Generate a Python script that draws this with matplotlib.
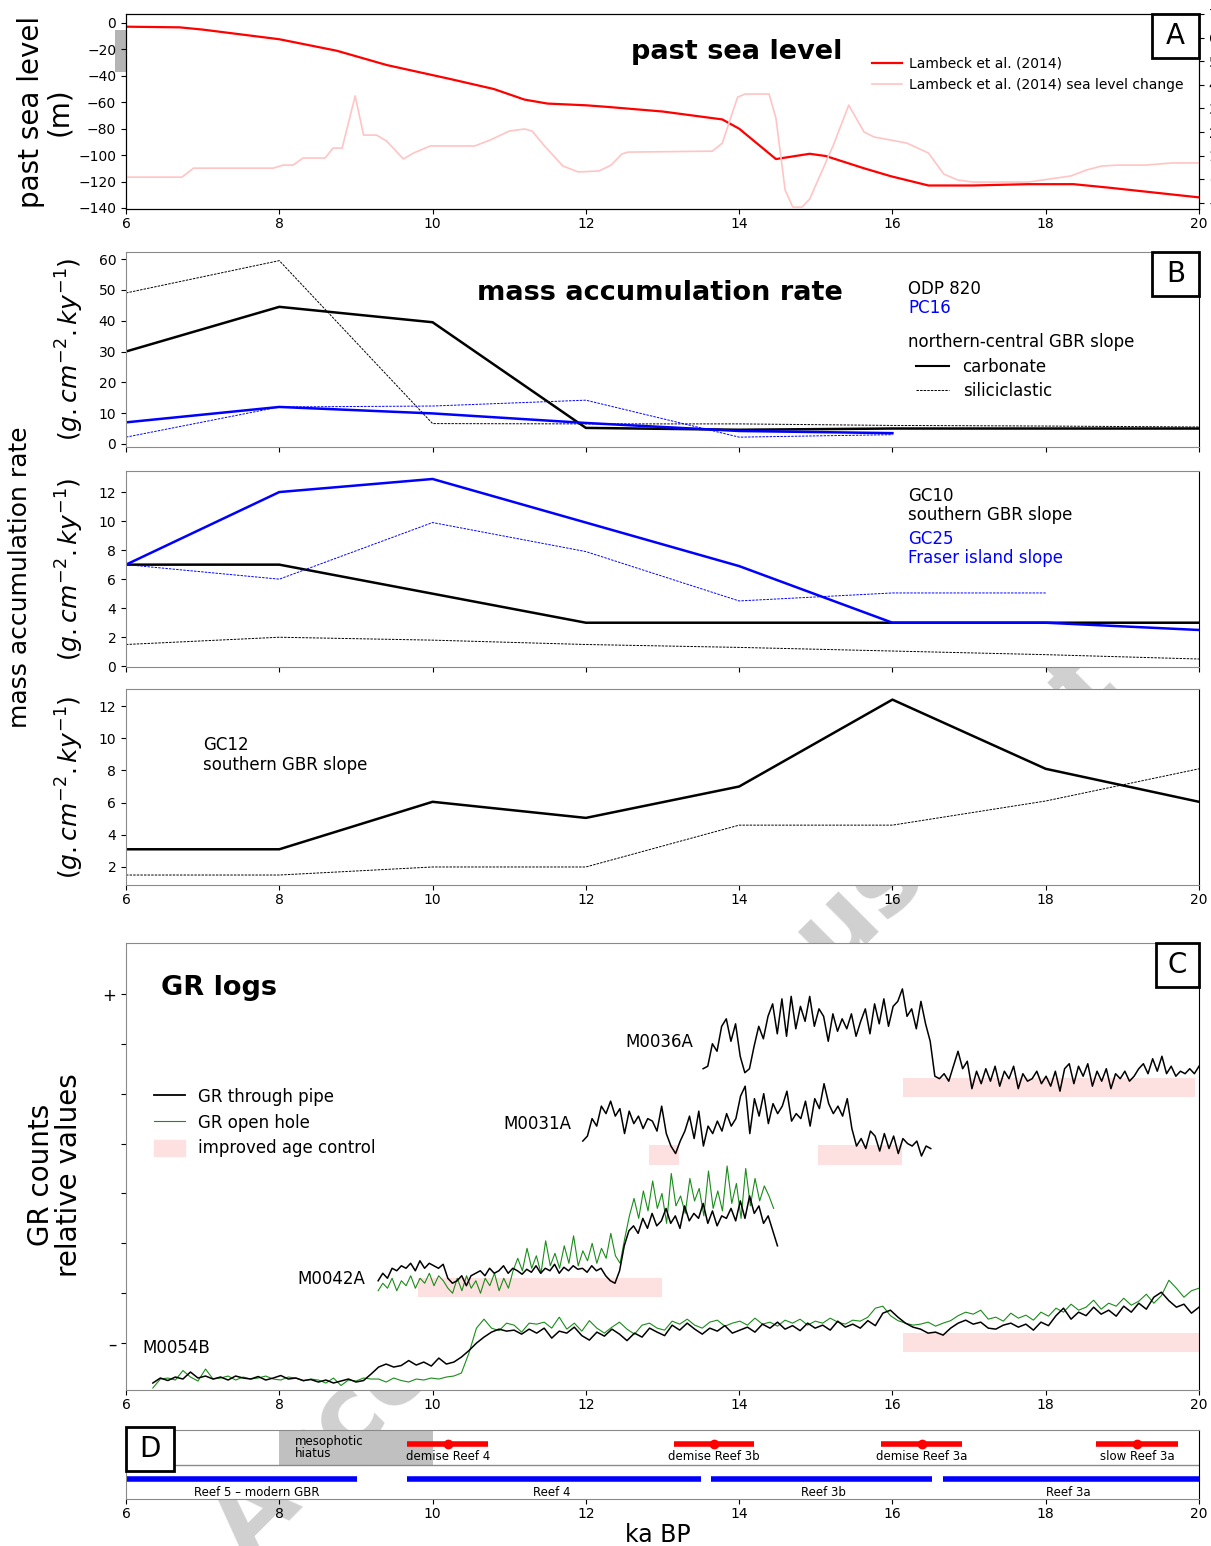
import numpy as np
import matplotlib
matplotlib.use("Agg")
import matplotlib.pyplot as plt
from matplotlib.lines import Line2D
from matplotlib.patches import Patch, Rectangle
import matplotlib.transforms as mtransforms

# ---------------- data ----------------
ka_ticks = np.arange(6, 21, 2)

# A: Lambeck et al. (2014) sea level (m) and sea level change (right axis)
lambeck_age = [6, 6.7, 7, 8, 8.75, 9.4, 10.23, 10.8, 11.2, 11.5, 12, 12.3, 13, 13.78,
               14, 14.48, 14.92, 15.13, 15.63, 15.98, 16.47, 17.05, 17.77, 18.36, 18.8, 20]
lambeck_sl = [-2.8, -3.3, -5, -12.3, -21, -31.8, -42.4, -50, -58, -61, -62.3, -63.6, -67, -73,
              -80, -103, -99, -100.7, -110, -116, -123, -123, -122, -122, -124.5, -132]
change_age = [6.0, 6.73, 6.88, 7.92, 8.05, 8.18, 8.31, 8.6, 8.7, 8.82, 8.99, 9.1, 9.27, 9.4,
              9.62, 9.75, 9.97, 10.23, 10.55, 10.75, 11.0, 11.2, 11.3, 11.45, 11.7, 11.9, 12.17,
              12.33, 12.47, 12.55, 13.65, 13.78, 13.98, 14.08, 14.39, 14.48, 14.6, 14.7, 14.82,
              14.92, 15.23, 15.43, 15.63, 15.76, 15.98, 16.19, 16.47, 16.67, 16.85, 17.05, 17.77,
              18.33, 18.53, 18.73, 18.94, 19.3, 19.65, 20.0]
change_val = [0.09, 0.09, 0.47, 0.47, 0.60, 0.60, 0.90, 0.90, 1.32, 1.32, 3.53, 1.87, 1.87, 1.62,
              0.86, 1.11, 1.41, 1.41, 1.41, 1.66, 2.04, 2.13, 2.04, 1.45, 0.56, 0.31, 0.35,
              0.60, 1.07, 1.15, 1.19, 1.53, 3.48, 3.61, 3.61, 2.59, -0.46, -1.18, -1.18,
              -0.84, 1.45, 3.14, 2.0, 1.79, 1.66, 1.53, 1.11, 0.22, -0.03, -0.12, -0.12,
              0.14, 0.39, 0.56, 0.60, 0.60, 0.69, 0.69]

# B: mass accumulation rates (g.cm-2.ky-1)
odp_age = [6, 8, 10, 12, 14, 16, 18, 20]
odp_carb = [30, 44.5, 39.5, 5.2, 4.6, 5, 5, 5]
odp_sili = [49, 59.5, 6.6, 6.5, 6.5, 6, 5.8, 5.5]
pc16_age = [6, 8, 10, 12, 14, 16]
pc16_carb = [7, 12, 9.9, 6.8, 4.2, 3.5]
pc16_sili = [2.2, 12, 12.3, 14.2, 2.2, 3.0]

gc_age = [6, 8, 10, 12, 14, 16, 18, 20]
gc10_carb = [7, 7, 5, 3, 3, 3, 3, 3]
gc10_sili = [1.5, 2, 1.8, 1.5, 1.3, 1.05, 0.8, 0.5]
gc25_carb = [7, 12, 12.9, 9.9, 6.9, 3, 3, 2.5]
gc25_sili_age = [6, 8, 10, 12, 14, 16, 18]
gc25_sili = [7, 6, 9.9, 7.9, 4.5, 5.05, 5.05]
gc12_carb = [3.1, 3.1, 6.05, 5.05, 7, 12.4, 8.1, 6.05]
gc12_sili = [1.5, 1.5, 2, 2, 4.6, 4.6, 6.1, 8.1]

# C: GR logs (relative counts), evenly sampled between first and last age
m0036a_range = (13.53, 20.0)
m0036a_pipe = [5.50, 5.55, 6.00, 5.85, 6.35, 6.50, 6.05, 6.40, 5.75, 5.42, 5.50, 5.95, 6.35, 6.10,
               6.55, 6.80, 6.20, 6.90, 6.15, 6.95, 6.30, 6.75, 6.45, 6.95, 6.35, 6.70, 6.55, 6.05,
               6.60, 6.25, 6.50, 6.30, 6.60, 6.15, 6.45, 6.70, 6.20, 6.80, 6.40, 6.90, 6.35, 6.75,
               6.85, 7.10, 6.55, 6.70, 6.30, 6.85, 6.40, 6.05, 5.35, 5.30, 5.40, 5.25, 5.55, 5.85,
               5.50, 5.65, 5.10, 5.45, 5.20, 5.50, 5.25, 5.55, 5.15, 5.45, 5.30, 5.55, 5.10, 5.40,
               5.25, 5.30, 5.45, 5.20, 5.35, 5.15, 5.45, 5.05, 5.50, 5.60, 5.20, 5.55, 5.35, 5.60,
               5.15, 5.45, 5.25, 5.50, 5.10, 5.40, 5.30, 5.45, 5.25, 5.35, 5.50, 5.60, 5.40, 5.70,
               5.45, 5.75, 5.40, 5.55, 5.35, 5.45, 5.40, 5.50, 5.40, 5.55]
m0031a_range = (11.96, 16.5)
m0031a_pipe = [4.05, 4.15, 4.50, 4.35, 4.75, 4.60, 4.85, 4.55, 4.70, 4.20, 4.65, 4.40, 4.55, 4.30,
               4.50, 4.45, 4.25, 4.75, 4.20, 3.95, 3.80, 4.05, 4.25, 4.55, 4.10, 4.65, 3.95, 4.35,
               4.20, 4.45, 4.25, 4.60, 4.35, 4.50, 4.95, 5.15, 4.20, 4.90, 4.55, 5.00, 4.40, 4.80,
               4.60, 4.75, 5.05, 4.45, 4.60, 4.50, 4.85, 4.35, 4.90, 4.70, 5.20, 4.80, 4.60, 4.75,
               4.55, 4.90, 4.30, 3.95, 4.10, 3.90, 4.25, 4.15, 3.85, 4.20, 3.90, 4.15, 3.80, 4.10,
               4.00, 3.95, 4.05, 3.75, 3.95, 3.90]
m0042a_pipe_range = (9.29, 14.5)
m0042a_pipe = [1.25, 1.40, 1.30, 1.50, 1.45, 1.55, 1.50, 1.60, 1.45, 1.65, 1.50, 1.60, 1.55, 1.50,
               1.58, 1.30, 1.20, 1.25, 1.35, 1.15, 1.35, 1.40, 1.45, 1.35, 1.50, 1.40, 1.45, 1.55,
               1.40, 1.50, 1.45, 1.38, 1.48, 1.42, 1.55, 1.40, 1.50, 1.45, 1.58, 1.40, 1.52, 1.45,
               1.55, 1.48, 1.50, 1.42, 1.55, 1.45, 1.50, 1.35, 1.25, 1.20, 1.45, 1.95, 2.25, 2.35,
               2.20, 2.50, 2.30, 2.60, 2.35, 2.45, 2.70, 2.40, 2.55, 2.30, 2.75, 2.45, 2.60, 2.50,
               2.80, 2.40, 2.65, 2.35, 2.55, 2.50, 2.70, 2.45, 2.85, 2.50, 2.95, 2.60, 2.75, 2.40,
               2.55, 2.25, 1.95]
m0042a_open_range = (9.29, 14.45)
m0042a_open = [1.05, 1.20, 1.10, 1.30, 1.05, 1.25, 1.15, 1.35, 1.10, 1.30, 1.20, 1.40, 1.15, 1.35,
               1.25, 1.10, 1.00, 1.30, 1.05, 1.35, 1.10, 1.25, 1.00, 1.30, 1.15, 1.40, 1.05, 1.30,
               1.10, 1.45, 1.70, 1.45, 1.90, 1.50, 1.75, 1.40, 2.05, 1.55, 1.80, 1.50, 1.95, 1.60,
               2.15, 1.55, 1.85, 1.65, 2.00, 1.60, 1.90, 1.70, 2.20, 1.75, 1.60, 2.10, 2.55, 2.90,
               2.50, 3.05, 2.65, 3.25, 2.70, 3.00, 2.40, 3.40, 2.75, 2.95, 2.60, 3.30, 2.85, 3.10,
               2.55, 3.45, 2.70, 3.05, 2.65, 3.55, 2.80, 3.20, 2.50, 3.50, 2.75, 3.30, 2.85, 3.15,
               2.95, 2.70]
m0054b_range = (6.35, 20.0)
m0054b_pipe = [-0.80, -0.70, -0.75, -0.68, -0.72, -0.58, -0.70, -0.66, -0.72, -0.68, -0.74, -0.66,
               -0.70, -0.72, -0.67, -0.74, -0.70, -0.65, -0.72, -0.70, -0.75, -0.73, -0.78, -0.74,
               -0.80, -0.76, -0.72, -0.78, -0.75, -0.62, -0.48, -0.42, -0.48, -0.45, -0.35, -0.44,
               -0.38, -0.46, -0.30, -0.42, -0.38, -0.28, -0.15, 0.00, 0.12, 0.22, 0.28, 0.24, 0.26,
               0.18, 0.28, 0.20, 0.30, 0.10, 0.24, 0.20, 0.32, 0.15, 0.06, 0.22, 0.14, 0.28, 0.18,
               0.05, 0.20, 0.12, 0.30, 0.22, 0.15, 0.36, 0.26, 0.40, 0.28, 0.18, 0.30, 0.24, 0.35,
               0.20, 0.26, 0.32, 0.22, 0.38, 0.30, 0.42, 0.28, 0.35, 0.25, 0.40, 0.30, 0.36, 0.26,
               0.44, 0.32, 0.38, 0.30, 0.45, 0.35, 0.60, 0.66, 0.52, 0.40, 0.32, 0.28, 0.20, 0.22,
               0.16, 0.30, 0.40, 0.46, 0.38, 0.42, 0.30, 0.28, 0.36, 0.40, 0.32, 0.38, 0.26, 0.42,
               0.35, 0.55, 0.70, 0.48, 0.62, 0.55, 0.72, 0.58, 0.66, 0.54, 0.74, 0.62, 0.80, 0.68,
               0.92, 1.02, 0.85, 0.72, 0.78, 0.60, 0.72]
m0054b_open = [-0.90, -0.72, -0.70, -0.74, -0.55, -0.68, -0.76, -0.52, -0.72, -0.70, -0.66, -0.74,
               -0.68, -0.72, -0.70, -0.66, -0.72, -0.74, -0.68, -0.70, -0.76, -0.72, -0.74, -0.80,
               -0.70, -0.85, -0.74, -0.76, -0.70, -0.72, -0.72, -0.78, -0.70, -0.75, -0.78, -0.72,
               -0.74, -0.70, -0.72, -0.68, -0.66, -0.60, -0.20, 0.30, 0.48, 0.30, 0.25, 0.40,
               0.36, 0.22, 0.40, 0.38, 0.42, 0.30, 0.52, 0.28, 0.40, 0.24, 0.45, 0.30, 0.20, 0.32,
               0.42, 0.28, 0.18, 0.36, 0.40, 0.30, 0.26, 0.44, 0.38, 0.48, 0.36, 0.30, 0.42, 0.46,
               0.34, 0.40, 0.44, 0.36, 0.50, 0.38, 0.42, 0.34, 0.46, 0.40, 0.48, 0.36, 0.44, 0.40,
               0.50, 0.42, 0.38, 0.46, 0.44, 0.52, 0.70, 0.74, 0.55, 0.45, 0.40, 0.36, 0.38, 0.42,
               0.34, 0.40, 0.45, 0.55, 0.62, 0.58, 0.66, 0.48, 0.52, 0.44, 0.60, 0.50, 0.56, 0.46,
               0.62, 0.54, 0.70, 0.62, 0.78, 0.66, 0.72, 0.86, 0.68, 0.80, 0.74, 0.90, 0.76, 0.84,
               0.98, 0.80, 0.95, 1.26, 1.10, 0.92, 1.05, 1.10]

well_names = ["M0036A", "M0031A", "M0042A", "M0054B"]
well_label_age = [13.40, 11.81, 9.12, 6.22]
well_label_val = [6.04, 4.39, 1.28, -0.10]

agectl_start = [16.14, 12.82, 15.03, 9.81, 16.14]
agectl_end = [19.95, 13.22, 16.12, 13.0, 20.0]
agectl_low = [4.93, 3.57, 3.57, 0.92, -0.18]
agectl_high = [5.31, 3.97, 3.97, 1.30, 0.20]

# D: reef events
demise_labels = ["demise Reef 4", "demise Reef 3b", "demise Reef 3a", "slow Reef 3a"]
demise_mid = [10.2, 13.67, 16.38, 19.19]
demise_lo = [9.67, 13.15, 15.85, 18.66]
demise_hi = [10.72, 14.2, 16.91, 19.73]
reef_labels = ["Reef 5 \u2013 modern GBR", "Reef 4", "Reef 3b", "Reef 3a"]
reef_start = [6.0, 9.67, 13.63, 16.66]
reef_end = [9.02, 13.5, 16.52, 20.0]
reef_label_at = [7.7, 11.55, 15.1, 18.3]
hiatus_start, hiatus_end = 8.0, 10.0

# ---------------- figure ----------------
W, H = 1211, 1546
fig = plt.figure(figsize=(W / 100, H / 100), dpi=100)


def add_axes(left, top, right, bottom):
    return fig.add_axes([left / W, 1 - bottom / H, (right - left) / W, (bottom - top) / H])


def grey_frame(ax, col="#8a8a8a"):
    for s in ["top", "left", "bottom"]:
        ax.spines[s].set_color(col)
    ax.spines["right"].set_color("k")


def tag(left, top, right, bottom, letter):
    fig.patches.append(Rectangle((left / W, 1 - bottom / H), (right - left) / W, (bottom - top) / H,
                                 transform=fig.transFigure, fc="white", ec="black", lw=2, zorder=10))
    fig.text((left + right) / 2 / W, 1 - (top + bottom) / 2 / H, letter, ha="center", va="center",
             fontsize=20, zorder=11)


BLUE = "#0000ff"
fine = (0, (2.5, 1.2))
TITLE_SIZE = 19.5

# ---- A: past sea level ----
axA = add_axes(126, 14, 1199, 209)
axA.plot(lambeck_age, lambeck_sl, color="red", lw=1.6)
axA.set_xlim(6, 20)
axA.set_ylim(-140.8, 6.8)
axA.set_yticks(np.arange(-140, 1, 20))
axA.set_xticks(ka_ticks)
axA.tick_params(labelsize=10)
axA.tick_params(axis="x", pad=2)
axA.add_patch(Rectangle((-0.0103, -37), 0.0103, 31.7, color="#b4b4b4", lw=0,
                        transform=mtransforms.blended_transform_factory(axA.transAxes, axA.transData),
                        clip_on=False))
axA2 = axA.twinx()
axA2.plot(change_age, change_val, color="#ffc4c4", lw=1.2)
axA2.set_ylim(-1.26, 7)
axA2.set_yticks(np.arange(-1, 8, 1))
axA2.tick_params(labelsize=10)
axA.text(0.5694, 0.805, "past sea level", transform=axA.transAxes, ha="center", va="center",
         fontsize=TITLE_SIZE, fontweight="bold")
axA2.legend(handles=[Line2D([], [], color="red", lw=1.6), Line2D([], [], color="#ffc4c4", lw=1.2)],
            labels=["Lambeck et al. (2014)", "Lambeck et al. (2014) sea level change"],
            loc="upper left", bbox_to_anchor=(0.69, 0.81), borderaxespad=0, frameon=False,
            fontsize=10, handlelength=2.2, handletextpad=0.5, labelspacing=0.55)
tag(1152, 14, 1199, 58, "A")

# ---- B: mass accumulation rates ----
axB1 = add_axes(126, 252, 1199, 447)
axB1.plot(odp_age, odp_carb, color="k", lw=1.8)
axB1.plot(odp_age, odp_sili, color="k", lw=0.7, linestyle=fine)
axB1.plot(pc16_age, pc16_carb, color=BLUE, lw=1.8)
axB1.plot(pc16_age, pc16_sili, color=BLUE, lw=0.7, linestyle=fine)
axB1.set_ylim(-1, 62.3)
axB1.set_yticks(np.arange(0, 61, 10))
axB1.text(0.4977, 0.79, "mass accumulation rate", transform=axB1.transAxes, ha="center",
          va="center", fontsize=TITLE_SIZE, fontweight="bold")
axB1.text(0.7288, 0.81, "ODP 820", transform=axB1.transAxes, va="center", fontsize=12)
axB1.text(0.7288, 0.713, "PC16", transform=axB1.transAxes, va="center", fontsize=12, color=BLUE)
axB1.text(0.7288, 0.538, "northern-central GBR slope", transform=axB1.transAxes, va="center",
          fontsize=12)
axB1.legend(handles=[Line2D([], [], color="k", lw=1.5), Line2D([], [], color="k", lw=0.7, linestyle=fine)],
            labels=["carbonate", "siliciclastic"], loc="upper left", bbox_to_anchor=(0.73, 0.49),
            borderaxespad=0, frameon=False, fontsize=12, handlelength=2.0, handletextpad=0.8,
            labelspacing=0.35)
tag(1152, 252, 1199, 296, "B")

axB2 = add_axes(126, 471, 1199, 667)
axB2.plot(gc_age, gc10_carb, color="k", lw=1.8)
axB2.plot(gc_age, gc10_sili, color="k", lw=0.7, linestyle=fine)
axB2.plot(gc_age, gc25_carb, color=BLUE, lw=1.8)
axB2.plot(gc25_sili_age, gc25_sili, color=BLUE, lw=0.7, linestyle=fine)
axB2.set_ylim(-0.05, 13.45)
axB2.set_yticks(np.arange(0, 13, 2))
for txt, yy, col in [("GC10", 0.872, "k"), ("southern GBR slope", 0.776, "k"),
                     ("GC25", 0.653, BLUE), ("Fraser island slope", 0.556, BLUE)]:
    axB2.text(0.7288, yy, txt, transform=axB2.transAxes, va="center", fontsize=12, color=col)

axB3 = add_axes(126, 689, 1199, 885)
axB3.plot(gc_age, gc12_carb, color="k", lw=1.8)
axB3.plot(gc_age, gc12_sili, color="k", lw=0.7, linestyle=fine)
axB3.set_ylim(0.88, 13.06)
axB3.set_yticks(np.arange(2, 13, 2))
axB3.text(0.0718, 0.714, "GC12", transform=axB3.transAxes, va="center", fontsize=12)
axB3.text(0.0718, 0.612, "southern GBR slope", transform=axB3.transAxes, va="center", fontsize=12)

for ax in (axB1, axB2, axB3):
    ax.set_xlim(6, 20)
    ax.set_xticks(ka_ticks)
    ax.tick_params(labelsize=10)
    ax.tick_params(axis="x", pad=2)
    grey_frame(ax)
    box = ax.get_position()
    fig.text(70 / W, box.y0 + box.height / 2, r"$(g.cm^{-2}.ky^{-1})$", rotation=90,
             ha="center", va="center", fontsize=18)
axB1.tick_params(labelbottom=False)
axB2.tick_params(labelbottom=False)

# ---- C: GR logs ----
axC = add_axes(126, 943, 1199, 1390)
for vals, rng in [(m0036a_pipe, m0036a_range), (m0031a_pipe, m0031a_range),
                  (m0042a_pipe, m0042a_pipe_range), (m0054b_pipe, m0054b_range)]:
    axC.plot(np.linspace(rng[0], rng[1], len(vals)), vals, color="k", lw=1.1, zorder=3)
for vals, rng in [(m0042a_open, m0042a_open_range), (m0054b_open, m0054b_range)]:
    axC.plot(np.linspace(rng[0], rng[1], len(vals)), vals, color="#1a8c1a", lw=0.8, zorder=2)
for x0, x1, y0, y1 in zip(agectl_start, agectl_end, agectl_low, agectl_high):
    axC.add_patch(Rectangle((x0, y0), x1 - x0, y1 - y0, color="#fde1e1", lw=0, zorder=1))
for name, xa, ya in zip(well_names, well_label_age, well_label_val):
    axC.text(xa, ya, name, ha="left" if name == "M0054B" else "right", va="center", fontsize=12)
axC.set_xlim(6, 20)
axC.set_ylim(-0.94, 8.02)
axC.set_xticks(ka_ticks)
axC.set_yticks(range(8))
axC.set_yticklabels(["\u2013", "", "", "", "", "", "", "+"], fontsize=12)
axC.tick_params(axis="x", labelsize=10, pad=2)
grey_frame(axC)
axC.text(0.0326, 0.899, "GR logs", transform=axC.transAxes, va="center", fontsize=TITLE_SIZE,
         fontweight="bold")
axC.legend(handles=[Line2D([], [], color="k", lw=1.3), Line2D([], [], color="#1a8c1a", lw=0.8),
                    Patch(color="#fde1e1")],
           labels=["GR through pipe", "GR open hole", "improved age control"],
           loc="upper left", bbox_to_anchor=(0.0196, 0.69), borderaxespad=0, frameon=False,
           fontsize=12, handlelength=1.9, handletextpad=0.75, labelspacing=0.45, handleheight=1.1)
tag(1156, 943, 1199, 987, "C")

# ---- D: reef chronology ----
axD = add_axes(126, 1430, 1199, 1499)
axD.set_xlim(6, 20)
axD.set_ylim(0, 2)
axD.axhline(1, color="#8a8a8a", lw=1)
axD.axvspan(hiatus_start, hiatus_end, ymin=0.5, ymax=1, color="#c0c0c0", lw=0)
axD.text(8.2, 1.5, "mesophotic\nhiatus", ha="left", va="center", fontsize=8.5, linespacing=0.95)
mid = np.array(demise_mid)
axD.errorbar(mid, [1.6] * len(mid), xerr=[mid - np.array(demise_lo), np.array(demise_hi) - mid],
             fmt="o", color="red", ms=6, elinewidth=4, capsize=0)
for xm, lab in zip(demise_mid, demise_labels):
    axD.text(xm, 1.22, lab, ha="center", va="center", fontsize=8.5)
axD.hlines([0.58] * len(reef_start), reef_start, reef_end, color=BLUE, lw=4)
for xm, lab in zip(reef_label_at, reef_labels):
    axD.text(xm, 0.2, lab, ha="center", va="center", fontsize=8.5)
axD.set_yticks([])
axD.set_xticks(ka_ticks)
axD.tick_params(labelsize=10, pad=2)
grey_frame(axD)
tag(126, 1427, 174, 1471, "D")

# ---- shared labels ----
fig.text(45 / W, 1 - 112 / H, "past sea level\n(m)", rotation=90, ha="center", va="center",
         fontsize=20, multialignment="center", linespacing=1.0)
fig.text(20 / W, 1 - 577 / H, "mass accumulation rate", rotation=90, ha="center", va="center",
         fontsize=18)
fig.text(55 / W, 1 - 1175 / H, "GR counts\nrelative values", rotation=90, ha="center",
         va="center", fontsize=20, multialignment="center", linespacing=1.0)
fig.text(658 / W, 1 - 1535 / H, "ka BP", ha="center", va="center", fontsize=17)

# background stamp
fig.text(0.549, 0.285, "Accepted Manuscript", rotation=45, ha="center", va="center",
         fontsize=75, fontweight="bold", color="#d0d0d0", zorder=-1)

fig.savefig("out.png", dpi=100)
